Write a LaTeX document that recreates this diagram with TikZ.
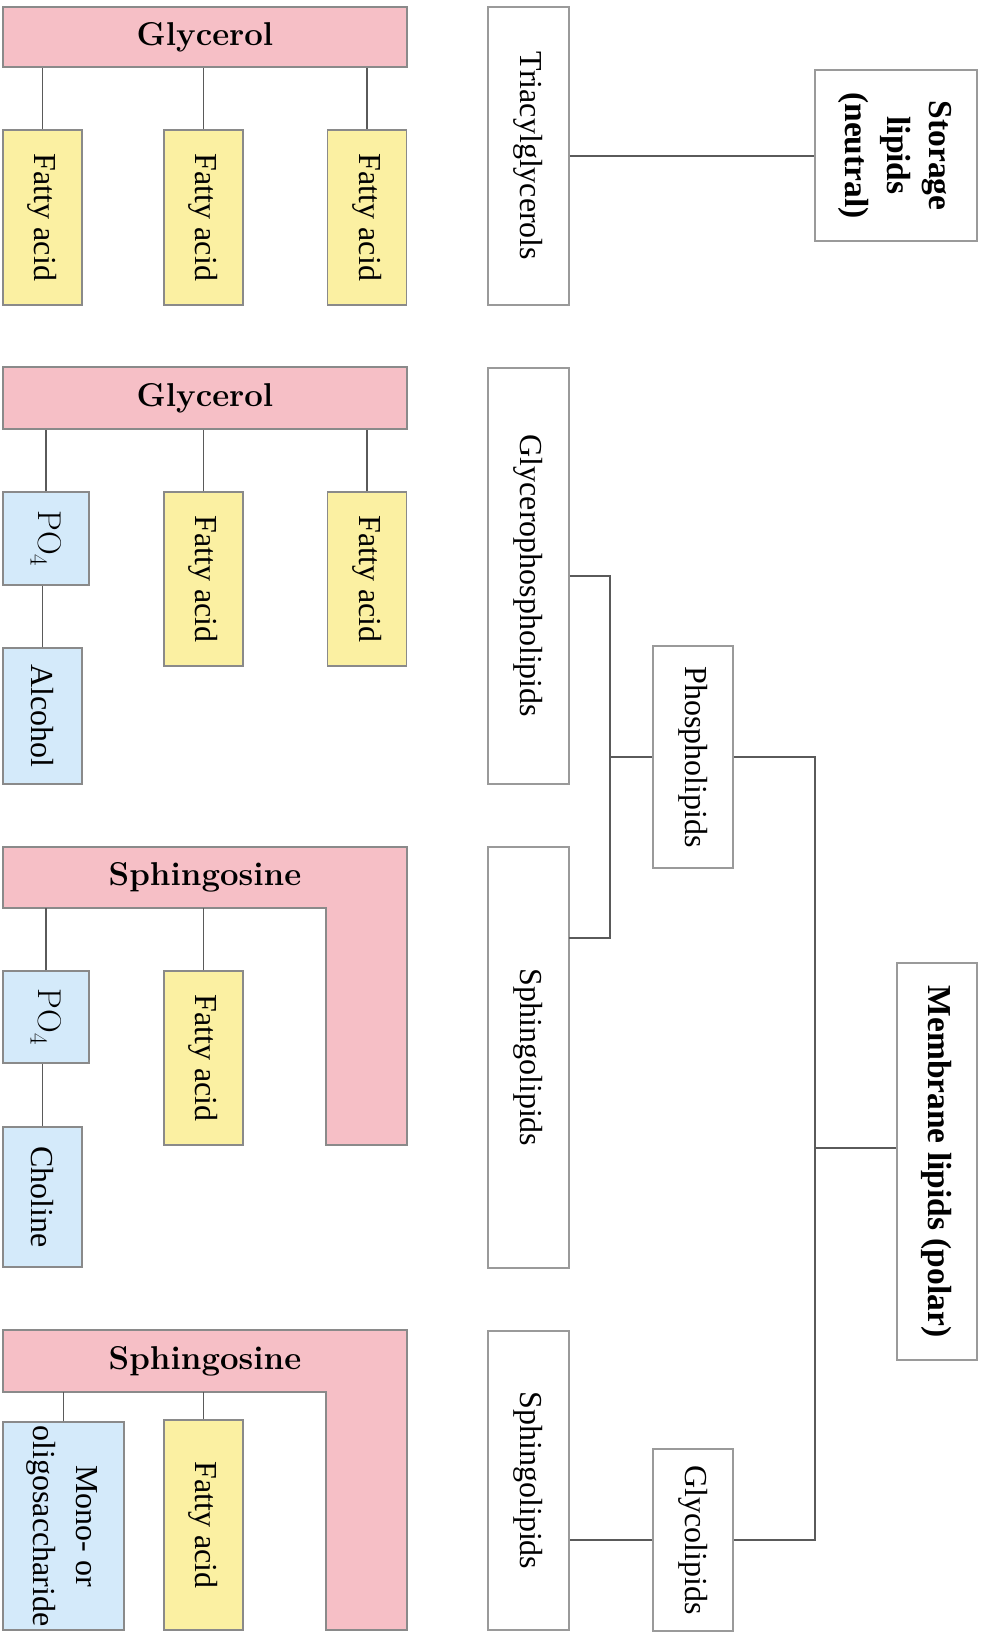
\documentclass[tikz,border=0pt]{standalone}
\usepackage{fontspec}
\newfontfamily\tnr{Liberation Serif}
\definecolor{pinkc}{HTML}{F6BFC6}
\definecolor{yellowc}{HTML}{FBF0A2}
\definecolor{bluec}{HTML}{D4EAFA}
\definecolor{boxgray}{HTML}{9A9A9A}
\definecolor{colgray}{HTML}{8A8A8A}
\definecolor{linegray}{HTML}{5A5A5A}
\tikzset{
  plainbox/.style={draw=boxgray, line width=1.5pt, fill=white, inner sep=0pt,
    font=\tnr\fontsize{32}{38}\selectfont},
  boldbox/.style={plainbox, font=\tnr\bfseries\fontsize{33.5}{42}\selectfont},
  fabox/.style={plainbox, fill=yellowc, draw=colgray},
  bluebox/.style={plainbox, fill=bluec, draw=colgray},
  pinkbox/.style={draw=colgray, line width=1.5pt, fill=pinkc, inner sep=0pt,
    font=\bfseries\fontsize{33}{40}\selectfont},
  pinklabel/.style={inner sep=0pt, font=\bfseries\fontsize{33}{40}\selectfont},
  conn/.style={draw=linegray, line width=1.5pt},
  lshape/.style={draw=colgray, line width=1.5pt, fill=pinkc},
}
\newcommand{\rt}[1]{\rotatebox{-90}{#1}}
\newcommand{\pofour}{\rt{\fontsize{33}{38}\selectfont$\mathrm{PO}_4$}}
\begin{document}
\begin{tikzpicture}[x=1pt,y=-1pt]
\useasboundingbox (0,0) rectangle (981,1632);
\clip (0,0) rectangle (981,1632);
% ---------- row 1: triacylglycerol ----------
\node[pinkbox, minimum width=404pt, minimum height=60pt] (gly1) at (205,37) {Glycerol};
\node[fabox, minimum width=79pt, minimum height=175pt] (fa1a) at (42.5,217.5) {\rt{Fatty acid}};
\node[fabox, minimum width=79pt, minimum height=175pt] (fa1b) at (203.5,217.5) {\rt{Fatty acid}};
\node[fabox, minimum width=79pt, minimum height=175pt] (fa1c) at (367,217.5) {\rt{Fatty acid}};
\draw[conn] (fa1a.north) -- (fa1a.north |- gly1.south);
\draw[conn] (fa1b.north) -- (fa1b.north |- gly1.south);
\draw[conn] (fa1c.north) -- (fa1c.north |- gly1.south);
\node[plainbox, minimum width=81pt, minimum height=298pt] (tag) at (528.5,156) {\rt{Triacylglycerols}};
\node[boldbox, minimum width=162pt, minimum height=171pt] (storage) at (896,155.5)
  {\rt{\begin{tabular}{@{}c@{}}Storage\\lipids\\(neutral)\end{tabular}}};
\draw[conn] (tag.east) -- (tag.east -| storage.west);
% ---------- row 2: glycerophospholipid ----------
\node[pinkbox, minimum width=404pt, minimum height=62pt] (gly2) at (205,398) {Glycerol};
\node[bluebox, minimum width=86pt, minimum height=93pt] (po4a) at (46,538.5) {\pofour};
\node[bluebox, minimum width=79pt, minimum height=136pt] (alc) at (42.5,716) {\rt{Alcohol}};
\node[fabox, minimum width=79pt, minimum height=174pt] (fa2b) at (203.5,579) {\rt{Fatty acid}};
\node[fabox, minimum width=79pt, minimum height=174pt] (fa2c) at (367,579) {\rt{Fatty acid}};
\draw[conn] (po4a.north) -- (po4a.north |- gly2.south);
\draw[conn] (fa2b.north) -- (fa2b.north |- gly2.south);
\draw[conn] (fa2c.north) -- (fa2c.north |- gly2.south);
\draw[conn] (alc.north) -- (alc.north |- po4a.south);
\node[plainbox, minimum width=81pt, minimum height=416pt] (gpl) at (528.5,576) {\rt{Glycerophospholipids}};
\node[plainbox, minimum width=80pt, minimum height=222pt] (phos) at (693,757) {\rt{Phospholipids}};
% ---------- row 3: sphingophospholipid ----------
\draw[lshape] (3,847) -- (407,847) -- (407,1145) -- (326,1145) -- (326,908) -- (3,908) -- cycle;
\node[pinklabel] (sph1t) at (205,877.5) {Sphingosine};
\coordinate (sph1b) at (205,908);
\node[bluebox, minimum width=86pt, minimum height=92pt] (po4b) at (46,1017) {\pofour};
\node[bluebox, minimum width=79pt, minimum height=140pt] (chol) at (42.5,1197) {\rt{Choline}};
\node[fabox, minimum width=79pt, minimum height=174pt] (fa3) at (203.5,1058) {\rt{Fatty acid}};
\draw[conn] (po4b.north) -- (po4b.north |- sph1b);
\draw[conn] (fa3.north) -- (fa3.north |- sph1b);
\draw[conn] (chol.north) -- (chol.north |- po4b.south);
\node[plainbox, minimum width=81pt, minimum height=421pt] (sphl1) at (528.5,1057.5) {\rt{Sphingolipids}};
\node[boldbox, minimum width=80pt, minimum height=397pt] (memb) at (937,1161.5) {\rt{Membrane lipids (polar)}};
% ---------- row 4: glycolipid ----------
\draw[lshape] (3,1330) -- (407,1330) -- (407,1630) -- (326,1630) -- (326,1392) -- (3,1392) -- cycle;
\node[pinklabel] (sph2t) at (205,1361) {Sphingosine};
\coordinate (sph2b) at (205,1392);
\node[bluebox, minimum width=121pt, minimum height=208pt] (mono) at (63.5,1526)
  {\rt{\fontsize{32}{43}\selectfont\begin{tabular}{@{}c@{}}Mono- or\\oligosaccharide\end{tabular}}};
\node[fabox, minimum width=79pt, minimum height=210pt] (fa4) at (203.5,1525) {\rt{Fatty acid}};
\draw[conn] (mono.north) -- (mono.north |- sph2b);
\draw[conn] (fa4.north) -- (fa4.north |- sph2b);
\node[plainbox, minimum width=81pt, minimum height=299pt] (sphl2) at (528.5,1480.5) {\rt{Sphingolipids}};
\node[plainbox, minimum width=80pt, minimum height=182pt] (glyco) at (693,1540) {\rt{Glycolipids}};
% ---------- tree connectors ----------
\coordinate (j1) at (610,757);
\coordinate (sp1c) at (569,938);
\coordinate (j2) at (815,757);
\coordinate (j3) at (815,1148);
\draw[conn] (gpl.east) -| (j1) |- (sp1c);
\draw[conn] (j1) -- (phos.west);
\draw[conn] (phos.east) -- (j2) |- (glyco.east);
\draw[conn] (j3) -- (j3 -| memb.west);
\draw[conn] (glyco.west) -- (glyco.west -| sphl2.east);
\end{tikzpicture}
\end{document}
